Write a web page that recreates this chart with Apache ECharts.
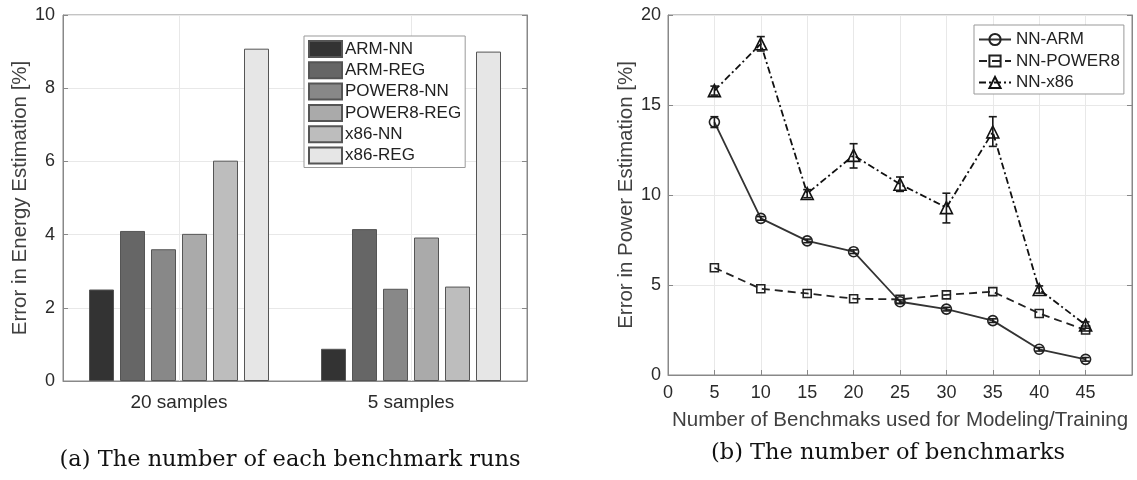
<!DOCTYPE html>
<html><head><meta charset="utf-8">
<script src="https://cdn.jsdelivr.net/npm/echarts@6/dist/echarts.min.js"></script>
<style>html,body{margin:0;padding:0;background:#fff}#c{width:1137px;height:480px}</style>
</head><body><div id="c"></div>
<script>
// ---- Data: left chart (a) ----
const sampleCats = ['20 samples', '5 samples'];
const barNames = ['ARM-NN', 'ARM-REG', 'POWER8-NN', 'POWER8-REG', 'x86-NN', 'x86-REG'];
const armNN = [2.5, 0.88];
const armREG = [4.1, 4.15];
const power8NN = [3.6, 2.52];
const power8REG = [4.02, 3.92];
const x86NN = [6.02, 2.58];
const x86REG = [9.08, 9.0];
const barColors = ['#333333', '#666666', '#888888', '#aaaaaa', '#bdbdbd', '#e6e6e6'];

// ---- Data: right chart (b) ----
const benchCounts = [5, 10, 15, 20, 25, 30, 35, 40, 45];
const nnARM = [14.05, 8.7, 7.45, 6.85, 4.07, 3.66, 3.02, 1.43, 0.87];
const nnPOWER8 = [5.96, 4.79, 4.53, 4.24, 4.2, 4.45, 4.63, 3.42, 2.5];
const nnX86 = [15.8, 18.4, 10.08, 12.2, 10.6, 9.3, 13.5, 4.75, 2.78];
const armErrLow = [13.75, 8.6, 7.35, 6.75, 3.97, 3.56, 2.92, 1.33, 0.77];
const armErrHigh = [14.35, 8.8, 7.55, 6.95, 4.17, 3.76, 3.12, 1.53, 0.97];
const x86ErrLow = [15.55, 18.0, 9.85, 11.5, 10.2, 8.45, 12.7, 4.55, 2.6];
const x86ErrHigh = [16.05, 18.8, 10.3, 12.85, 11.0, 10.1, 14.35, 4.95, 2.95];
const xTicks = [0, 5, 10, 15, 20, 25, 30, 35, 40, 45];

const chart = echarts.init(document.getElementById('c'));
const txt = '#2a2a2a';
const nameCol = '#404040';
const font = 'Liberation Sans, Arial, sans-serif';
const barSets = [armNN, armREG, power8NN, power8REG, x86NN, x86REG];

function errSeries(low, high) {
  return {
    type: 'custom', xAxisIndex: 1, yAxisIndex: 2, z: 6, silent: true,
    data: benchCounts.map((x, i) => [x, low[i], high[i]]),
    renderItem: function (params, api) {
      const p1 = api.coord([api.value(0), api.value(1)]);
      const p2 = api.coord([api.value(0), api.value(2)]);
      const w = 4;
      const st = { stroke: '#1a1a1a', lineWidth: 1.6 };
      return { type: 'group', children: [
        { type: 'line', shape: { x1: p1[0], y1: p1[1], x2: p2[0], y2: p2[1] }, style: st },
        { type: 'line', shape: { x1: p1[0] - w, y1: p1[1], x2: p1[0] + w, y2: p1[1] }, style: st },
        { type: 'line', shape: { x1: p2[0] - w, y1: p2[1], x2: p2[0] + w, y2: p2[1] }, style: st }
      ]};
    }
  };
}

const series = barNames.map((n, k) => ({
  name: n, type: 'bar', xAxisIndex: 0, yAxisIndex: 0, data: barSets[k],
  barWidth: 25, barGap: '24%', z: 3,
  itemStyle: { color: barColors[k], borderColor: '#555', borderWidth: 1 }
}));
series.push({
  type: 'line', xAxisIndex: 0, yAxisIndex: 0, data: [], silent: true, z: 1,
  markLine: { silent: true, symbol: 'none', label: { show: false }, z: 1,
    lineStyle: { color: '#e8e8e8', type: 'solid', width: 1 },
    data: sampleCats.map(c => ({ xAxis: c })) }
});
const lineCommon = { xAxisIndex: 1, yAxisIndex: 2, type: 'line', z: 5 };
series.push(Object.assign({}, lineCommon, {
  name: 'NN-ARM', data: benchCounts.map((x, i) => [x, nnARM[i]]),
  symbol: 'circle', symbolSize: 10,
  lineStyle: { color: '#333', width: 1.8, type: 'solid' },
  itemStyle: { color: 'rgba(0,0,0,0)', borderColor: '#222', borderWidth: 1.6 }
}));
series.push(Object.assign({}, lineCommon, {
  name: 'NN-POWER8', data: benchCounts.map((x, i) => [x, nnPOWER8[i]]),
  symbol: 'rect', symbolSize: 8,
  lineStyle: { color: '#222', width: 1.8, type: [8, 5] },
  itemStyle: { color: 'rgba(0,0,0,0)', borderColor: '#222', borderWidth: 1.6 }
}));
series.push(Object.assign({}, lineCommon, {
  name: 'NN-x86', data: benchCounts.map((x, i) => [x, nnX86[i]]),
  symbol: 'triangle', symbolSize: 12,
  lineStyle: { color: '#111', width: 1.8, type: [7, 3, 2, 3] },
  itemStyle: { color: 'rgba(0,0,0,0)', borderColor: '#111', borderWidth: 1.6 }
}));
series.push(errSeries(armErrLow, armErrHigh));
series.push(errSeries(x86ErrLow, x86ErrHigh));

const axisLineStyle = { show: true, lineStyle: { color: '#888', width: 1 } };
const tickIn = { show: true, inside: true, length: 5, lineStyle: { color: '#888' } };
const capStyle = { fontFamily: 'DejaVu Serif, Liberation Serif, serif', fontSize: 22.5, fontWeight: 'normal', color: '#111' };
const option = {
  animation: false,
  textStyle: { fontFamily: font },
  title: [
    { text: '(a) The number of each benchmark runs', left: 290, top: 449, textAlign: 'center', padding: 0, textStyle: capStyle },
    { text: '(b) The number of benchmarks', left: 888, top: 442, textAlign: 'center', padding: 0, textStyle: capStyle }
  ],
  grid: [
    { left: 63, right: 610, top: 15, bottom: 99, show: true, borderColor: '#888', borderWidth: 1, backgroundColor: 'transparent' },
    { left: 668, right: 5, top: 15, bottom: 105, show: true, borderColor: '#888', borderWidth: 1, backgroundColor: 'transparent' }
  ],
  legend: [
    { data: barNames, orient: 'vertical', left: 304, top: 36, itemWidth: 33, itemHeight: 16, itemGap: 3.3,
      padding: [4, 4, 3, 4], borderColor: '#999', borderWidth: 1, backgroundColor: '#fff', icon: 'rect', z: 20,
      textStyle: { fontSize: 17, color: '#222', fontFamily: font, padding: [0, 0, 0, -2] } },
    { data: ['NN-ARM', 'NN-POWER8', 'NN-x86'], orient: 'vertical', left: 974, top: 25, itemWidth: 32, itemHeight: 14, itemGap: 4.5,
      padding: [6, 4, 3, 4], borderColor: '#999', borderWidth: 1, backgroundColor: '#fff', z: 20,
      textStyle: { fontSize: 17, color: '#222', fontFamily: font } }
  ],
  xAxis: [
    { type: 'category', gridIndex: 0, data: sampleCats,
      axisLine: axisLineStyle, axisTick: Object.assign({ alignWithLabel: true }, tickIn),
      splitLine: { show: false },
      axisLabel: { fontSize: 19, color: txt, margin: 12 } },
    { type: 'value', gridIndex: 1, min: 0, max: 50, interval: 5,
      name: 'Number of Benchmaks used for Modeling/Training', nameLocation: 'middle', nameGap: 35,
      nameTextStyle: { fontSize: 20.5, color: nameCol },
      axisLine: axisLineStyle, axisTick: tickIn,
      splitLine: { show: true, lineStyle: { color: '#e8e8e8' } },
      axisLabel: { fontSize: 18, color: txt, margin: 9, formatter: v => xTicks.indexOf(v) >= 0 ? String(v) : '' } }
  ],
  yAxis: [
    { type: 'value', gridIndex: 0, min: 0, max: 10, interval: 2,
      name: 'Error in Energy Estimation [%]', nameLocation: 'middle', nameGap: 28,
      nameTextStyle: { fontSize: 20.5, color: nameCol },
      axisLine: axisLineStyle, axisTick: tickIn,
      splitLine: { show: true, lineStyle: { color: '#e8e8e8' } },
      axisLabel: { fontSize: 18, color: txt, margin: 8 } },
    { type: 'value', gridIndex: 0, position: 'right', min: 0, max: 10, interval: 2,
      axisLine: axisLineStyle, axisTick: tickIn, splitLine: { show: false }, axisLabel: { show: false } },
    { type: 'value', gridIndex: 1, min: 0, max: 20, interval: 5,
      name: 'Error in Power Estimation [%]', nameLocation: 'middle', nameGap: 28,
      nameTextStyle: { fontSize: 20.5, color: nameCol },
      axisLine: axisLineStyle, axisTick: tickIn,
      splitLine: { show: true, lineStyle: { color: '#e8e8e8' } },
      axisLabel: { fontSize: 18, color: txt, margin: 7 } },
    { type: 'value', gridIndex: 1, position: 'right', min: 0, max: 20, interval: 5,
      axisLine: axisLineStyle, axisTick: tickIn, splitLine: { show: false }, axisLabel: { show: false } }
  ],
  series: series
};
chart.setOption(option);
</script></body></html>
